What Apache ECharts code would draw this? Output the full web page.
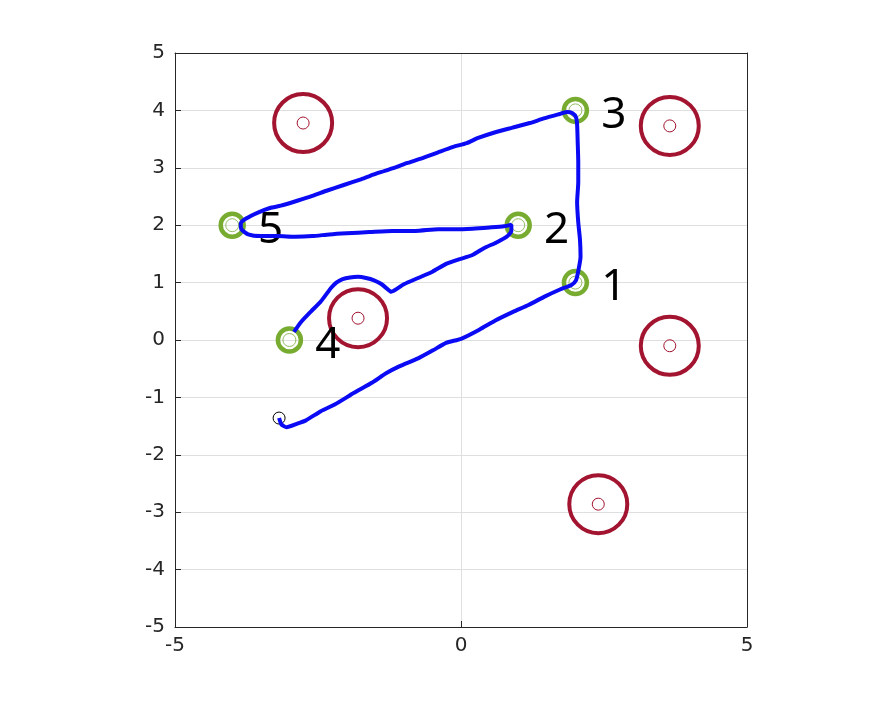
<!DOCTYPE html>
<html>
<head>
<meta charset="utf-8">
<script src="https://cdn.jsdelivr.net/npm/echarts@6.0.0/dist/echarts.min.js"></script>
<style>
  html, body { margin: 0; padding: 0; background: #fff; }
  #chart { width: 891px; height: 703px; }
</style>
</head>
<body>
<div id="chart"></div>
<script>
// targets (green rings) with their numbers
var targets = [[2, 1], [1, 2], [2, 4], [-3, 0], [-4, 2]];
var targetLabels = ['1', '2', '3', '4', '5'];

// obstacles (red rings)
var obstacles = [[-2.76, 3.78], [3.65, 3.73], [-1.80, 0.38], [3.65, -0.10], [2.40, -2.86]];

// start point
var startPoint = [[-3.18, -1.36]];

// traced path of the robot
var path = [
  [-3.18, -1.36], [-3.14, -1.47], [-3.05, -1.52], [-2.87, -1.46], [-2.71, -1.40],
  [-2.45, -1.24], [-2.20, -1.12], [-1.87, -0.92], [-1.55, -0.74], [-1.31, -0.58],
  [-1.08, -0.46], [-0.75, -0.32], [-0.49, -0.18], [-0.26, -0.05], [0.00, 0.02],
  [0.32, 0.18], [0.60, 0.34], [0.91, 0.49], [1.18, 0.61], [1.47, 0.76],
  [1.73, 0.88], [1.93, 0.96], [2.01, 1.04], [2.05, 1.20], [2.09, 1.45],
  [2.08, 1.75], [2.05, 2.05], [2.03, 2.40], [2.05, 2.75], [2.05, 3.10],
  [2.04, 3.45], [2.03, 3.75], [2.01, 3.88], [1.95, 3.95], [1.85, 3.97],
  [1.70, 3.93], [1.45, 3.86], [1.20, 3.78], [0.90, 3.70], [0.60, 3.62],
  [0.30, 3.52], [0.10, 3.43], [-0.15, 3.36], [-0.40, 3.27], [-0.70, 3.16],
  [-0.95, 3.08], [-1.20, 2.99], [-1.45, 2.91], [-1.75, 2.80], [-2.05, 2.70],
  [-2.35, 2.60], [-2.60, 2.51], [-2.85, 2.43], [-3.15, 2.34], [-3.34, 2.30],
  [-3.55, 2.22], [-3.75, 2.12], [-3.85, 2.03], [-3.84, 1.93], [-3.72, 1.84],
  [-3.50, 1.81], [-3.20, 1.81], [-2.90, 1.80], [-2.60, 1.81], [-2.30, 1.84],
  [-2.00, 1.86], [-1.60, 1.88], [-1.20, 1.90], [-0.80, 1.90], [-0.40, 1.93],
  [-0.10, 1.93], [0.20, 1.94], [0.50, 1.96], [0.75, 1.98], [0.88, 2.01],
  [0.88, 1.90], [0.80, 1.80], [0.62, 1.70], [0.40, 1.60], [0.20, 1.48],
  [-0.05, 1.40], [-0.25, 1.33], [-0.50, 1.19], [-0.75, 1.08], [-1.00, 0.97],
  [-1.22, 0.84], [-1.30, 0.90], [-1.40, 0.98], [-1.52, 1.04], [-1.66, 1.08],
  [-1.80, 1.10], [-1.94, 1.09], [-2.07, 1.06], [-2.18, 1.00], [-2.27, 0.91],
  [-2.36, 0.79], [-2.46, 0.66], [-2.62, 0.50], [-2.80, 0.31], [-2.92, 0.14]
];

var axisColor = '#262626';
var gridColor = '#dfdfdf';
var tickFont = 'DejaVu Sans';

var ringStyle = function (color, width) {
    return { color: 'rgba(0,0,0,0)', borderColor: color, borderWidth: width, opacity: 1 };
};

var myChart = echarts.init(document.getElementById('chart'));
var option = {
    animation: false,
    backgroundColor: '#fff',
    grid: {
        left: 175,
        right: 144,
        top: 53,
        bottom: 76,
        outerBoundsMode: 'none'
    },
    xAxis: [
        {
            type: 'value',
            min: -5,
            max: 5,
            interval: 5,
            axisLine: { onZero: false, lineStyle: { color: axisColor } },
            axisTick: { inside: true, length: 6, lineStyle: { color: axisColor } },
            axisLabel: { color: axisColor, fontSize: 20, fontFamily: tickFont, margin: 9 },
            splitLine: { lineStyle: { color: gridColor } }
        },
        {
            type: 'value',
            position: 'top',
            min: -5,
            max: 5,
            interval: 5,
            axisLine: { onZero: false, lineStyle: { color: axisColor } },
            axisTick: { show: false },
            axisLabel: { show: false },
            splitLine: { show: false }
        }
    ],
    yAxis: [
        {
            type: 'value',
            min: -5,
            max: 5,
            interval: 1,
            axisLine: { show: true, onZero: false, lineStyle: { color: axisColor } },
            axisTick: { show: true, inside: true, length: 6, lineStyle: { color: axisColor } },
            axisLabel: { color: axisColor, fontSize: 20, fontFamily: tickFont, margin: 10 },
            splitLine: { lineStyle: { color: gridColor } }
        },
        {
            type: 'value',
            position: 'right',
            min: -5,
            max: 5,
            interval: 1,
            axisLine: { show: true, onZero: false, lineStyle: { color: axisColor } },
            axisTick: { show: false },
            axisLabel: { show: false },
            splitLine: { show: false }
        }
    ],
    series: [
        {
            type: 'scatter',
            silent: true,
            data: obstacles,
            symbolSize: 58,
            itemStyle: ringStyle('#a2142f', 4),
            z: 2
        },
        {
            type: 'scatter',
            silent: true,
            data: obstacles,
            symbolSize: 12,
            itemStyle: ringStyle('#a2142f', 1),
            z: 2
        },
        {
            type: 'scatter',
            silent: true,
            data: targets,
            symbolSize: 23,
            itemStyle: ringStyle('#77ac30', 4.5),
            label: {
                show: true,
                position: 'right',
                distance: 12,
                offset: [0, 5],
                formatter: function (p) { return targetLabels[p.dataIndex]; },
                fontSize: 44,
                fontFamily: 'Noto Sans',
                color: '#000'
            },
            z: 2
        },
        {
            type: 'scatter',
            silent: true,
            data: targets,
            symbolSize: 13,
            itemStyle: ringStyle('#93bd62', 1),
            z: 2
        },
        {
            type: 'scatter',
            silent: true,
            data: startPoint,
            symbolSize: 12,
            itemStyle: ringStyle('#000', 1),
            z: 2
        },
        {
            type: 'line',
            silent: true,
            data: path,
            showSymbol: false,
            smooth: 0.2,
            lineStyle: { color: '#0a0af5', width: 4 },
            z: 5
        }
    ]
};
myChart.setOption(option);
</script>
</body>
</html>
